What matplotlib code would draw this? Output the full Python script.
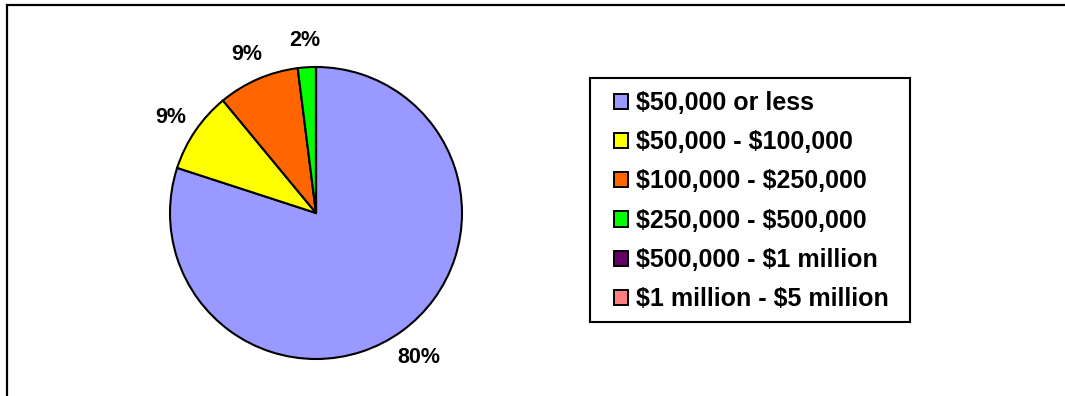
import matplotlib
matplotlib.use("Agg")
import matplotlib.pyplot as plt
from matplotlib.patches import Rectangle, Patch

plt.rcParams["font.family"] = ["Liberation Sans", "DejaVu Sans"]
plt.rcParams["text.parse_math"] = False

# share of accounts by balance range (percent)
categories = ["$50,000 or less", "$50,000 - $100,000", "$100,000 - $250,000",
              "$250,000 - $500,000", "$500,000 - $1 million", "$1 million - $5 million"]
shares = [80, 9, 9, 2, 0, 0]
colors = ["#9999FF", "#FFFF00", "#FF6600", "#00FF00", "#660066", "#FF8080"]

W, H = 1065, 396
fig = plt.figure(figsize=(W / 100, H / 100), dpi=100)

# outer chart frame (left and top edges show)
fig.add_artist(Rectangle((7 / W, -0.1), 1.2, 1.1 - 5 / H, transform=fig.transFigure,
                         fill=False, edgecolor="black", linewidth=1.6))

r = 146
cx, cy = 316, H - 213
ax = fig.add_axes([(cx - r) / W, (cy - r) / H, 2 * r / W, 2 * r / H])

def pct_label(p):
    return "%d%%" % round(p) if p > 0.5 else ""

wedges, texts, autotexts = ax.pie(shares, colors=colors, startangle=90, counterclock=False,
                                  autopct=pct_label, pctdistance=1.2,
                                  wedgeprops=dict(edgecolor="black", linewidth=1.5),
                                  textprops=dict(fontsize=15.5, fontweight="bold"))
for t in autotexts:
    t.set_va("center_baseline")
    t.set_ha("center")
ax.set_xlim(-1, 1)
ax.set_ylim(-1, 1)
ax.set_aspect("equal")

# legend box drawn separately so the padding can differ per side
fig.add_artist(Rectangle((590 / W, 1 - 322 / H), 320 / W, 244 / H, transform=fig.transFigure,
                         fill=False, edgecolor="black", linewidth=1.5))
handles = [Patch(facecolor=c, edgecolor="black", linewidth=1.4) for c in colors]
leg = fig.legend(handles, categories, loc="upper left",
                 bbox_to_anchor=(614 / W, 1 - 91 / H), bbox_transform=fig.transFigure,
                 prop=dict(size=18, weight="bold"), frameon=False,
                 borderpad=0, labelspacing=0.61,
                 handlelength=0.56, handleheight=0.56, handletextpad=0.3, borderaxespad=0)

fig.savefig("out.png", dpi=100)
